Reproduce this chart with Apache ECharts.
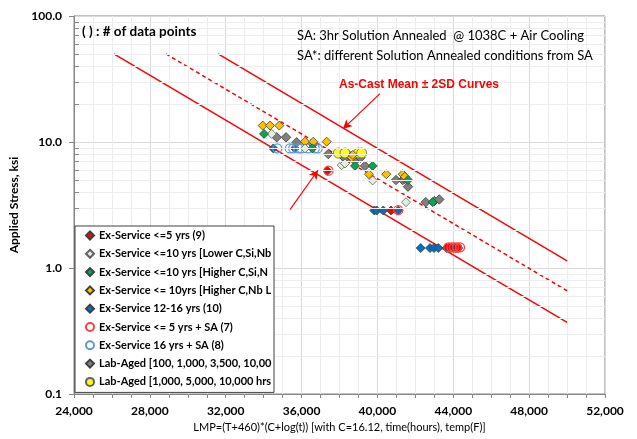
<!DOCTYPE html>
<html><head><meta charset="utf-8">
<script src="https://cdn.jsdelivr.net/npm/echarts@6/dist/echarts.min.js"></script>
<style>html,body{margin:0;padding:0;background:#fff}#c{width:637px;height:439px}</style>
</head><body><div id="c"></div>
<script>
// ---------- data ----------
const seriesNames = [
  'Ex-Service <=5 yrs (9)',
  'Ex-Service <=10 yrs [Lower C,Si,Nb] (6)',
  'Ex-Service <=10 yrs [Higher C,Si,Nb] (6)',
  'Ex-Service <= 10yrs [Higher C,Nb Lower Si] (12)',
  'Ex-Service 12-16 yrs (10)',
  'Ex-Service <= 5 yrs + SA (7)',
  'Ex-Service 16 yrs + SA (8)',
  'Lab-Aged [100, 1,000, 3,500, 10,000 hrs] (19)',
  'Lab-Aged [1,000, 5,000, 10,000 hrs]+SA* (4)'
];
const exs5LMP    = [37360, 40715, 43650, 43750, 43850, 44000, 44100, 44200, 44260];
const exs5Stress = [5.9, 2.86, 1.44, 1.44, 1.44, 1.44, 1.44, 1.44, 1.44];

const exs10LowLMP    = [34425, 36180, 38116, 38290, 39750, 41506];
const exs10LowStress = [11.6, 8.9, 6.55, 6.75, 4.95, 3.33];

const exs10HighLMP    = [34020, 36570, 38817, 39750, 41612, 42914];
const exs10HighStress = [11.6, 8.9, 6.46, 6.46, 4.99, 3.33];

const exs10NbLMP    = [33950, 34335, 34825, 36180, 36620, 37325, 38643, 38700, 39555, 40468, 41332, 41450];
const exs10NbStress = [13.5, 13.5, 13.5, 10.06, 10.06, 10.06, 7.54, 7.9, 5.55, 5.55, 5.55, 5.3];

const exs1216LMP    = [34510, 35650, 39835, 39961, 40309, 41100, 42281, 42772, 42983, 43210];
const exs1216Stress = [8.9, 8.9, 2.86, 2.86, 2.86, 2.86, 1.44, 1.44, 1.44, 1.44];

const exs5SALMP    = [37420, 41100, 43737, 43900, 44036, 44200, 44354];
const exs5SAStress = [5.92, 2.88, 1.46, 1.46, 1.46, 1.46, 1.46];

const exs16SALMP    = [34720, 35380, 35560, 35830, 36000, 36350, 36700, 36850];
const exs16SAStress = [8.9, 8.9, 8.9, 8.9, 8.9, 8.9, 8.9, 8.9];

const labAgedLMP    = [34690, 35180, 35740, 36600, 37410, 38100, 38300, 38553, 38817, 38991, 39100, 39344, 40979, 41332, 41450, 41612, 42545, 43000, 43262];
const labAgedStress = [10.9, 10.9, 9.95, 9.6, 8.02, 7.9, 7.4, 7.73, 7.09, 8.02, 7.5, 6.46, 4.99, 4.99, 5.1, 4.42, 3.33, 3.4, 3.5];

const labSALMP    = [37940, 38290, 38991, 39170];
const labSAStress = [8.17, 8.17, 8.17, 8.17];

const upperCurveLMP = [31600, 50000];
const upperCurveStress = [50, 1.14];
const meanCurveLMP = [28850, 50000];
const meanCurveStress = [50, 0.66];
const lowerCurveLMP = [26100, 50000];
const lowerCurveStress = [50, 0.37];

const xTickMin = 24000, xTickMax = 52000, xTickStep = 4000;
const yTickLabels = ['0.1', '1.0', '10.0', '100.0'];
const yMinorValues = [0.2,0.3,0.4,0.5,0.6,0.7,0.8,0.9, 2,3,4,5,6,7,8,9, 20,30,40,50,60,70,80,90];

const arrowFrom = [[40135, 24.2], [35390, 2.91]];
const arrowTo   = [[38184, 12.7], [36866, 5.97]];

// ---------- helpers ----------
const zip = (a, b) => a.map((v, i) => [v, b[i]]);
const FONT = 'Lato';

const styles = [
  {symbol:'diamond', size:9, color:'#FF0000', border:'#404040', bw:0.8},
  {symbol:'diamond', size:9, color:'#E4EEDC', border:'#606060', bw:0.8},
  {symbol:'diamond', size:9, color:'#00A850', border:'#404040', bw:0.8},
  {symbol:'diamond', size:9, color:'#FFC000', border:'#404040', bw:0.8},
  {symbol:'diamond', size:9, color:'#0070C0', border:'#404040', bw:0.8},
  {symbol:'circle', size:9, color:'rgba(255,255,255,0)', border:'#FF4040', bw:1.3},
  {symbol:'circle', size:9, color:'rgba(255,255,255,0)', border:'#5B9BD5', bw:1.3},
  {symbol:'diamond', size:9.5, color:'#7F7F7F', border:'#404040', bw:0.8},
  {symbol:'circle', size:10, color:'#FFFF00', border:'#606060', bw:0.8}
];
const dataSets = [
  zip(exs5LMP, exs5Stress),
  zip(exs10LowLMP, exs10LowStress),
  zip(exs10HighLMP, exs10HighStress),
  zip(exs10NbLMP, exs10NbStress),
  zip(exs1216LMP, exs1216Stress),
  zip(exs5SALMP, exs5SAStress),
  zip(exs16SALMP, exs16SAStress),
  zip(labAgedLMP, labAgedStress),
  zip(labSALMP, labSAStress)
];
const drawOrder = [7, 8, 4, 6, 3, 1, 2, 0, 5];

const series = [];
// minor gridlines & minor ticks (through the library scale)
series.push({
  type: 'scatter', data: [], silent: true, z: 1,
  markLine: {
    silent: true, symbol: ['none', 'none'], animation: false,
    label: {show: false},
    lineStyle: {color: '#EDEDED', width: 1, type: 'solid'},
    emphasis: {disabled: true},
    data: yMinorValues.map(v => [{coord: [xTickMin, v]}, {coord: [xTickMax, v]}])
      .concat(yMinorValues.map(v => [{coord: [xTickMin, v], lineStyle: {color: '#868686'}}, {coord: [xTickMin + 260, v], lineStyle: {color: '#868686'}}]))
  }
});
// curves
const curve = (lmp, st, dashed) => ({
  type: 'line', data: zip(lmp, st), showSymbol: false, symbol: 'none', silent: true, z: 2,
  lineStyle: {color: '#FF0000', width: 1.5, type: dashed ? [4, 3] : 'solid'},
  animation: false
});
series.push(curve(upperCurveLMP, upperCurveStress, false));
series.push(curve(meanCurveLMP, meanCurveStress, true));
series.push(curve(lowerCurveLMP, lowerCurveStress, false));
// arrows
series.push({
  type: 'scatter', data: [], silent: true, z: 2,
  markLine: {
    silent: true, symbol: ['none', 'arrow'], symbolSize: [7, 9], animation: false,
    label: {show: false}, emphasis: {disabled: true},
    lineStyle: {color: '#FF0000', width: 1.2, type: 'solid'},
    data: arrowFrom.map((f, i) => [{coord: f}, {coord: arrowTo[i]}])
  }
});
// data series
drawOrder.forEach(i => {
  const s = styles[i];
  series.push({
    name: seriesNames[i], type: 'scatter', data: dataSets[i], z: 3,
    symbol: s.symbol, symbolSize: s.size, animation: false,
    itemStyle: {color: s.color, borderColor: s.border, borderWidth: s.bw, opacity: 1}
  });
});

const chart = echarts.init(document.getElementById('c'), null, {renderer: 'canvas'});
chart.setOption({
  backgroundColor: '#fff',
  animation: false,
  grid: {left: 74, right: 32, top: 16, bottom: 45, show: true, borderColor: '#868686', borderWidth: 1, backgroundColor: 'transparent'},
  xAxis: {
    type: 'value', min: xTickMin, max: xTickMax, interval: xTickStep,
    axisLine: {lineStyle: {color: '#868686'}},
    axisTick: {show: true, inside: false, length: 4, lineStyle: {color: '#868686'}},
    minorTick: {show: true, splitNumber: 4, length: 4, lineStyle: {color: '#868686'}},
    splitLine: {show: true, lineStyle: {color: '#D9D9D9'}},
    minorSplitLine: {show: true, lineStyle: {color: '#EDEDED'}},
    axisLabel: {formatter: v => v.toLocaleString('en-US'), fontFamily: FONT, fontWeight: 'bold', fontSize: 12, color: '#000', margin: 11},
    name: 'LMP=(T+460)*(C+log(t)) [with C=16.12, time(hours), temp(F)]',
    nameLocation: 'middle', nameGap: 28,
    nameTextStyle: {fontFamily: FONT, fontSize: 11, color: '#000'}
  },
  yAxis: {
    type: 'log', logBase: 10, min: 0.1, max: 100,
    axisLine: {show: true, lineStyle: {color: '#868686'}},
    axisTick: {show: true, inside: false, length: 5, lineStyle: {color: '#868686'}},
    splitLine: {show: true, lineStyle: {color: '#D9D9D9'}},
    axisLabel: {
      formatter: v => yTickLabels[Math.round(Math.log10(v)) + 1],
      fontFamily: FONT, fontWeight: 'bold', fontSize: 12, color: '#000', margin: 12
    },
    name: 'Applied Stress, ksi', nameLocation: 'middle', nameGap: 44, nameRotate: 90,
    nameTextStyle: {fontFamily: FONT, fontWeight: 'bold', fontSize: 12, color: '#000'}
  },
  legend: {
    data: seriesNames, orient: 'vertical', left: 75, top: 226,
    padding: [3, 0, 4, 10], itemGap: 5.3, itemWidth: 8, itemHeight: 8, itemSymbolKeepAspect: true,
    backgroundColor: '#fff', borderColor: '#404040', borderWidth: 1, z: 10,
    selectedMode: false, inactiveColor: '#000',
    textStyle: {fontFamily: '"Liberation Sans Narrow", "Arial Narrow", Lato', fontWeight: 'bold', fontSize: 11, color: '#000', lineHeight: 13,
      width: 175, overflow: 'truncate', ellipsis: ''}
  },
  graphic: [
    {type: 'text', left: 82, top: 25, z: 20, style: {text: '( ) : # of data points', font: 'bold 13.5px Lato', fill: '#000'}},
    {type: 'text', left: 297, top: 29, z: 20, style: {text: 'SA: 3hr Solution Annealed  @ 1038C + Air Cooling', font: '13px Lato', fill: '#000'}},
    {type: 'text', left: 297, top: 49, z: 20, style: {text: 'SA*: different Solution Annealed conditions from SA', font: '13px Lato', fill: '#000'}},
    {type: 'text', left: 339, top: 79, z: 20, style: {text: 'As-Cast Mean \u00b1 2SD Curves', font: 'bold 12px "Liberation Sans"', fill: '#FF0000'}}
  ],
  series: series
});
</script>
</body></html>
